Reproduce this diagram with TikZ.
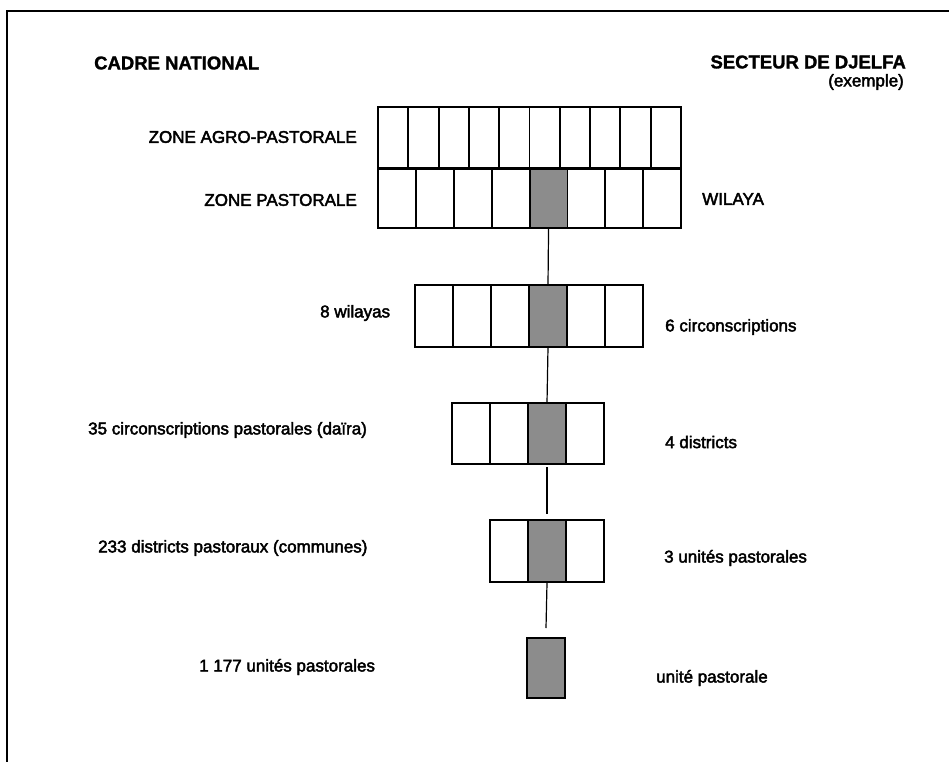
\documentclass[tikz,border=0pt]{standalone}
\usepackage{fontspec}
\setmainfont{Liberation Sans}
\newfontfamily\labfont{Liberation Sans}[FakeBold=2.5]
\newfontfamily\headfont{Liberation Sans Bold}[FakeBold=1.5]
\begin{document}
\begin{tikzpicture}[x=1pt,y=-1pt,
  cellbox/.style={draw, line width=1.9pt, minimum width=#1, inner sep=0pt, outer sep=0pt, anchor=north west},
  shaded/.style={fill=black!45},
  conn/.style={line width=1.2pt},
  frame/.style={line width=1.9pt},
  head/.style={font=\headfont\fontsize{18.5}{20}\selectfont, inner sep=0pt},
  lab/.style={font=\labfont\fontsize{17}{19}\selectfont, inner sep=0pt}]
\useasboundingbox (0,0) rectangle (949,762);
% frame (top and left sides)
\coordinate (fr1) at (949,11);
\coordinate (fr2) at (7,11);
\coordinate (fr3) at (7,762);
\draw[frame] (fr1) -- (fr2) -- (fr3);
% headers
\node[head, anchor=west] (hl) at (94,63) {CADRE NATIONAL};
\node[head, anchor=east] (hr) at (906,62) {SECTEUR DE DJELFA};
\node[lab, anchor=east] (ex) at (904,82) {(exemple)};
% row 1 : zone agro-pastorale
\foreach \i in {1,...,10}
  \node[cellbox=30.3pt, minimum height=61pt] (a\i) at ({378+(\i-1)*30.3},107) {};
% row 2 : zone pastorale
\foreach \i in {1,...,8}{
  \ifnum\i=5
    \node[cellbox=37.9pt, minimum height=59pt, shaded] (b\i) at ({378+(\i-1)*37.9},169) {};
  \else
    \node[cellbox=37.9pt, minimum height=59pt] (b\i) at ({378+(\i-1)*37.9},169) {};
  \fi}
% row 3
\foreach \i in {1,...,6}{
  \ifnum\i=4
    \node[cellbox=38pt, minimum height=62pt, shaded] (c\i) at ({415+(\i-1)*38},285) {};
  \else
    \node[cellbox=38pt, minimum height=62pt] (c\i) at ({415+(\i-1)*38},285) {};
  \fi}
% row 4
\foreach \i in {1,...,4}{
  \ifnum\i=3
    \node[cellbox=38pt, minimum height=61pt, shaded] (d\i) at ({452+(\i-1)*38},403) {};
  \else
    \node[cellbox=38pt, minimum height=61pt] (d\i) at ({452+(\i-1)*38},403) {};
  \fi}
% row 5
\foreach \i in {1,...,3}{
  \ifnum\i=2
    \node[cellbox=38pt, minimum height=62pt, shaded] (e\i) at ({490+(\i-1)*38},520) {};
  \else
    \node[cellbox=38pt, minimum height=62pt] (e\i) at ({490+(\i-1)*38},520) {};
  \fi}
% single unit
\node[cellbox=38pt, minimum height=60pt, shaded] (f1) at (527,638) {};
% connectors
\draw[conn] (b5.south) -- (c4.north);
\draw[conn] (c4.south) -- (d3.north);
\draw[conn] ([yshift=-3pt]d3.south) -- ([yshift=6pt]e2.north);
\draw[conn] ([yshift=-1pt]e2.south) -- ([yshift=10pt]f1.north);
% left labels
\node[lab, anchor=east] (l1) at (357,137) {ZONE AGRO-PASTORALE};
\node[lab, anchor=east] (l2) at (357,200) {ZONE PASTORALE};
\node[lab, anchor=west] (l3) at (320,313) {8 wilayas};
\node[lab, anchor=west] (l4) at (88,430) {35 circonscriptions pastorales (daïra)};
\node[lab, anchor=west] (l5) at (98,548) {233 districts pastoraux (communes)};
\node[lab, anchor=west] (l6) at (199,667) {1 177 unités pastorales};
% right labels
\node[lab, anchor=west] (r1) at (702,199) {WILAYA};
\node[lab, anchor=west] (r2) at (665,327) {6 circonscriptions};
\node[lab, anchor=west] (r3) at (665,442) {4 districts};
\node[lab, anchor=west] (r4) at (664,558) {3 unités pastorales};
\node[lab, anchor=west] (r5) at (656,678) {unité pastorale};
\end{tikzpicture}
\end{document}
